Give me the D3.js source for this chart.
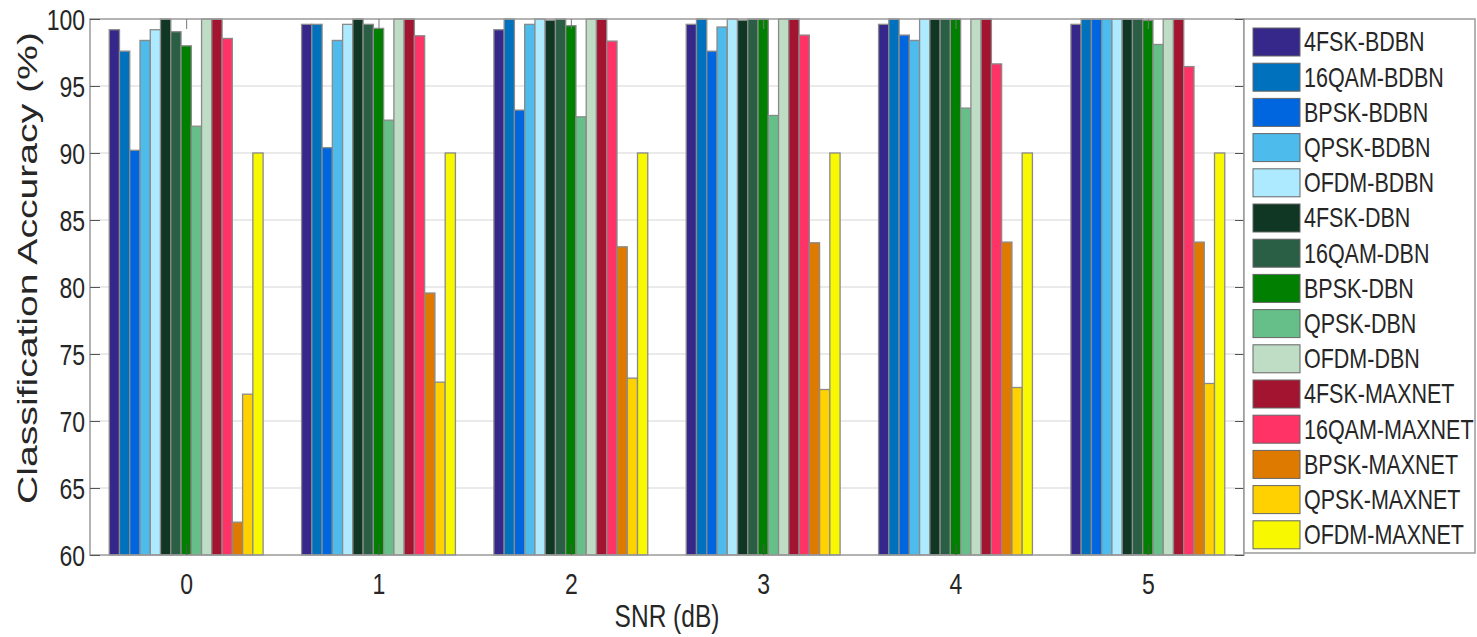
<!DOCTYPE html>
<html>
<head>
<meta charset="utf-8">
<script src="https://cdn.jsdelivr.net/npm/d3@7"></script>
<style>
  body { margin: 0; background: #fff; }
  text { font-family: "Liberation Sans", Arial, sans-serif; fill: #262626; }
</style>
</head>
<body>
<div id="chart"></div>
<script>
// snr values on the x axis
const snr = [0, 1, 2, 3, 4, 5];
const yTicks = [60, 65, 70, 75, 80, 85, 90, 95, 100];

const seriesNames = [
  "4FSK-BDBN", "16QAM-BDBN", "BPSK-BDBN", "QPSK-BDBN", "OFDM-BDBN",
  "4FSK-DBN", "16QAM-DBN", "BPSK-DBN", "QPSK-DBN", "OFDM-DBN",
  "4FSK-MAXNET", "16QAM-MAXNET", "BPSK-MAXNET", "QPSK-MAXNET", "OFDM-MAXNET"
];
const seriesColors = [
  "#35288a", "#0072bd", "#0066e0", "#4dbbeb", "#aeeaff",
  "#103624", "#2a5f45", "#007f00", "#66bf88", "#bfdcc4",
  "#a2142f", "#ff3366", "#df7a00", "#ffd100", "#f8f800"
];

// one row per series, one value per snr
const fsk_bdbn    = [99.2, 99.6, 99.2, 99.6, 99.6, 99.6];
const qam_bdbn    = [97.6, 99.6, 100, 100, 100, 100];
const bpsk_bdbn   = [90.2, 90.4, 93.2, 97.6, 98.8, 100];
const qpsk_bdbn   = [98.4, 98.4, 99.6, 99.4, 98.4, 100];
const ofdm_bdbn   = [99.2, 99.6, 100, 100, 100, 100];
const fsk_dbn     = [100, 100, 99.9, 99.9, 100, 100];
const qam_dbn     = [99.05, 99.6, 100, 100, 100, 100];
const bpsk_dbn    = [98.0, 99.3, 99.5, 100, 100, 99.9];
const qpsk_dbn    = [92.0, 92.45, 92.7, 92.8, 93.35, 98.1];
const ofdm_dbn    = [100, 100, 100, 100, 100, 100];
const fsk_maxnet  = [100, 100, 100, 100, 100, 100];
const qam_maxnet  = [98.55, 98.75, 98.35, 98.8, 96.65, 96.45];
const bpsk_maxnet = [62.45, 79.55, 83.0, 83.3, 83.35, 83.35];
const qpsk_maxnet = [72.0, 72.9, 73.2, 72.35, 72.5, 72.8];
const ofdm_maxnet = [90, 90, 90, 90, 90, 90];

const values = [
  fsk_bdbn, qam_bdbn, bpsk_bdbn, qpsk_bdbn, ofdm_bdbn,
  fsk_dbn, qam_dbn, bpsk_dbn, qpsk_dbn, ofdm_dbn,
  fsk_maxnet, qam_maxnet, bpsk_maxnet, qpsk_maxnet, ofdm_maxnet
];

const width = 1477, height = 637;
const plot = { left: 90, right: 1244, top: 19, bottom: 555 };
// the source picture is stretched vertically, text too
const stretch = 1.3;

const svg = d3.select("#chart").append("svg")
  .attr("width", width)
  .attr("height", height);

const x = d3.scaleLinear().domain([-0.5, 5.5]).range([plot.left, plot.right]);
const y = d3.scaleLinear().domain([60, 100]).range([plot.bottom, plot.top]);

// bars inside a group, MATLAB style group width 0.8
const inner = d3.scaleBand()
  .domain(d3.range(seriesNames.length))
  .range([-0.4, 0.4])
  .padding(0);
const unit = x(1) - x(0);

// grid
svg.append("g")
  .selectAll("line")
  .data(yTicks.slice(1, -1))
  .join("line")
  .attr("x1", plot.left).attr("x2", plot.right)
  .attr("y1", d => y(d)).attr("y2", d => y(d))
  .attr("stroke", "#e3e3e3")
  .attr("stroke-width", 1.5);

// bars
const rows = [];
values.forEach((vals, s) => vals.forEach((v, i) => rows.push({ s, i, v })));

svg.append("g")
  .selectAll("rect")
  .data(rows)
  .join("rect")
  .attr("x", d => x(snr[d.i]) + inner(d.s) * unit)
  .attr("width", inner.bandwidth() * unit)
  .attr("y", d => y(d.v))
  .attr("height", d => y(60) - y(d.v))
  .attr("fill", d => seriesColors[d.s])
  .attr("stroke", "#8a8a8a")
  .attr("stroke-width", 1.3);

// axes box + ticks
const axisColor = "#9a9a9a";
svg.append("rect")
  .attr("x", plot.left).attr("y", plot.top)
  .attr("width", plot.right - plot.left)
  .attr("height", plot.bottom - plot.top)
  .attr("fill", "none")
  .attr("stroke", axisColor)
  .attr("stroke-width", 1.5);

const yAxisL = d3.axisLeft(y).tickValues(yTicks).tickSize(-10);
svg.append("g")
  .attr("transform", `translate(${plot.left},0)`)
  .call(yAxisL)
  .call(g => g.select(".domain").remove())
  .call(g => g.selectAll(".tick line").attr("stroke", "#555"))
  .call(g => g.selectAll("text")
    .attr("x", 0).attr("y", 0).attr("dy", "0.35em")
    .attr("transform", `translate(-5,0) scale(1,${stretch})`)
    .attr("font-size", 23).attr("fill", "#262626")
    .style("font-family", "Liberation Sans, Arial, sans-serif"));

const yAxisR = d3.axisRight(y).tickValues(yTicks).tickSize(-9).tickFormat("");
svg.append("g")
  .attr("transform", `translate(${plot.right},0)`)
  .call(yAxisR)
  .call(g => g.select(".domain").remove())
  .call(g => g.selectAll(".tick line").attr("stroke", "#555"));

const xAxisB = d3.axisBottom(x).tickValues(snr).tickSize(-10).tickFormat(d3.format("d"));
svg.append("g")
  .attr("transform", `translate(0,${plot.bottom})`)
  .call(xAxisB)
  .call(g => g.select(".domain").remove())
  .call(g => g.selectAll(".tick line").attr("stroke", "#555"))
  .call(g => g.selectAll("text")
    .attr("x", 0).attr("y", 0).attr("dy", "0.35em")
    .attr("transform", `translate(0,29) scale(1,${stretch})`)
    .attr("font-size", 23).attr("fill", "#262626")
    .style("font-family", "Liberation Sans, Arial, sans-serif"));

const xAxisT = d3.axisTop(x).tickValues(snr).tickSize(-10).tickFormat("");
svg.append("g")
  .attr("transform", `translate(0,${plot.top})`)
  .call(xAxisT)
  .call(g => g.select(".domain").remove())
  .call(g => g.selectAll(".tick line").attr("stroke", "#777"));

// axis titles
svg.append("text")
  .attr("transform", `translate(28,268) rotate(-90) scale(1.45,1)`)
  .attr("text-anchor", "middle")
  .attr("dy", "0.35em")
  .attr("font-size", 27)
  .text("Classification Accuracy (%)");

svg.append("text")
  .attr("transform", `translate(${(plot.left + plot.right) / 2},${616}) scale(1,${stretch})`)
  .attr("text-anchor", "middle")
  .attr("dy", "0.35em")
  .attr("font-size", 24.5)
  .text("SNR (dB)");

// legend
const legend = svg.append("g");
legend.append("rect")
  .attr("x", plot.right).attr("y", plot.top)
  .attr("width", 231).attr("height", plot.bottom - plot.top - 2)
  .attr("fill", "#fff")
  .attr("stroke", axisColor)
  .attr("stroke-width", 1.5);

const step = 35.2;
const item = legend.selectAll("g.item")
  .data(seriesNames)
  .join("g")
  .attr("class", "item")
  .attr("transform", (d, i) => `translate(${plot.right + 9},${42 + i * step})`);

item.append("rect")
  .attr("x", 0).attr("y", -14)
  .attr("width", 47).attr("height", 28)
  .attr("fill", (d, i) => seriesColors[i])
  .attr("stroke", "#666")
  .attr("stroke-width", 1);

item.append("text")
  .attr("transform", `translate(51,0) scale(1,1.25)`)
  .attr("dy", "0.35em")
  .attr("font-size", 21.5)
  .text(d => d);
</script>
</body>
</html>
